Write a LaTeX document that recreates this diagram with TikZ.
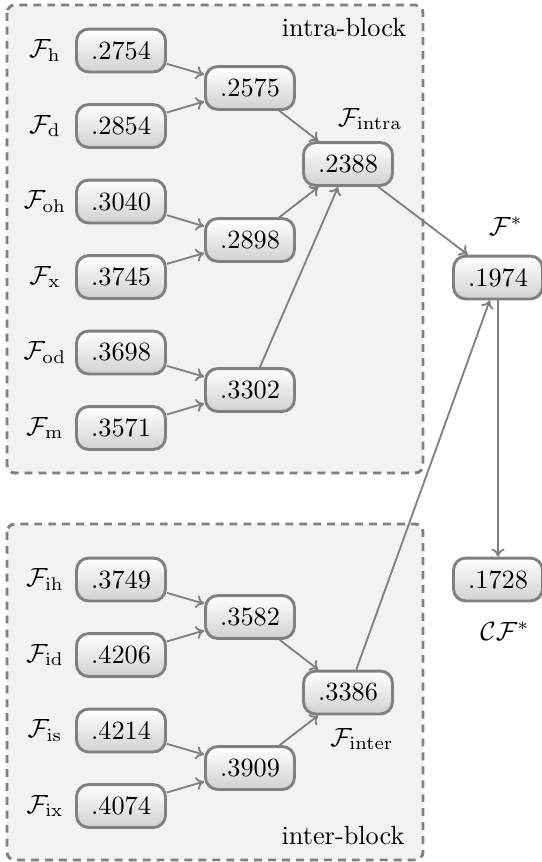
\documentclass[tikz,border=0pt]{standalone}
\usetikzlibrary{arrows.meta}
\definecolor{edgegray}{HTML}{808080}
\definecolor{blockfill}{HTML}{F2F2F2}
\tikzset{
  val/.style={draw=edgegray, line width=1.1pt, rounded corners=4.6pt,
    top color=white, bottom color=black!18, minimum width=33.8pt,
    minimum height=16.3pt, inner sep=0pt, font=\normalsize},
  blk/.style={draw=edgegray, fill=blockfill, line width=1.1pt,
    dash pattern=on 3pt off 2.3pt, rounded corners=3pt},
  lnk/.style={draw=edgegray, line width=0.7pt, -{To[length=3pt,width=5pt]}},
  lbl/.style={inner sep=0pt}
}
\begin{document}
\begin{tikzpicture}[x=0.38pt,y=-0.38pt]
\useasboundingbox (0,0) rectangle (542,862);
% the two blocks
\path[blk] (7,5) rectangle (423,473);
\path[blk] (7,524) rectangle (423,860);
\node[lbl] (tintra) at (344,28) {intra-block};
\node[lbl] (tinter) at (343,836) {inter-block};

% intra-block values
\node[val] (h)  at (121,50.5) {.2754};
\node[val] (d)  at (121,126)  {.2854};
\node[val] (oh) at (121,201.5){.3040};
\node[val] (x)  at (121,277)  {.3745};
\node[val] (od) at (121,352.5){.3698};
\node[val] (m)  at (121,428)  {.3571};
\node[val] (hd)  at (250,88)  {.2575};
\node[val] (ohx) at (250,240) {.2898};
\node[val] (odm) at (250,390) {.3302};
\node[val] (intra) at (348,164) {.2388};

% inter-block values
\node[val] (ih) at (121,579.5) {.3749};
\node[val] (id) at (121,655)   {.4206};
\node[val] (is) at (121,730.5) {.4214};
\node[val] (ix) at (121,806)   {.4074};
\node[val] (ihd) at (250,617)  {.3582};
\node[val] (isx) at (250,768)  {.3909};
\node[val] (inter) at (348,692.5) {.3386};

% fused values
\node[val] (fstar) at (498,277.5) {.1974};
\node[val] (cf)    at (498,579.5) {.1728};

% names of the values
\node[lbl] (lh)  at (45,50.5)  {$\mathcal{F}_{\mathrm{h}}$};
\node[lbl] (ld)  at (45,126)   {$\mathcal{F}_{\mathrm{d}}$};
\node[lbl] (loh) at (45,201.5) {$\mathcal{F}_{\mathrm{oh}}$};
\node[lbl] (lx)  at (45,277)   {$\mathcal{F}_{\mathrm{x}}$};
\node[lbl] (lod) at (45,352.5) {$\mathcal{F}_{\mathrm{od}}$};
\node[lbl] (lm)  at (45,428)   {$\mathcal{F}_{\mathrm{m}}$};
\node[lbl] (lih) at (45,579.5) {$\mathcal{F}_{\mathrm{ih}}$};
\node[lbl] (lid) at (45,655)   {$\mathcal{F}_{\mathrm{id}}$};
\node[lbl] (lis) at (45,730.5) {$\mathcal{F}_{\mathrm{is}}$};
\node[lbl] (lix) at (45,806)   {$\mathcal{F}_{\mathrm{ix}}$};
\node[lbl] (lintra) at (370,119) {$\mathcal{F}_{\mathrm{intra}}$};
\node[lbl] (linter) at (362,739) {$\mathcal{F}_{\mathrm{inter}}$};
\node[lbl] (lfstar) at (506,226) {$\mathcal{F}^{*}$};
\node[lbl] (lcf)    at (505,631) {$\mathcal{C}\mathcal{F}^{*}$};

% connectors
\draw[lnk] (h) -- (hd);
\draw[lnk] (d) -- (hd);
\draw[lnk] (oh) -- (ohx);
\draw[lnk] (x) -- (ohx);
\draw[lnk] (od) -- (odm);
\draw[lnk] (m) -- (odm);
\draw[lnk] (hd) -- (intra);
\draw[lnk] (ohx) -- (intra);
\draw[lnk] (odm) -- (intra);
\draw[lnk] (ih) -- (ihd);
\draw[lnk] (id) -- (ihd);
\draw[lnk] (is) -- (isx);
\draw[lnk] (ix) -- (isx);
\draw[lnk] (ihd) -- (inter);
\draw[lnk] (isx) -- (inter);
\draw[lnk] (intra) -- (fstar);
\draw[lnk] (inter) -- (fstar);
\draw[lnk] (fstar) -- (cf);
\end{tikzpicture}
\end{document}
